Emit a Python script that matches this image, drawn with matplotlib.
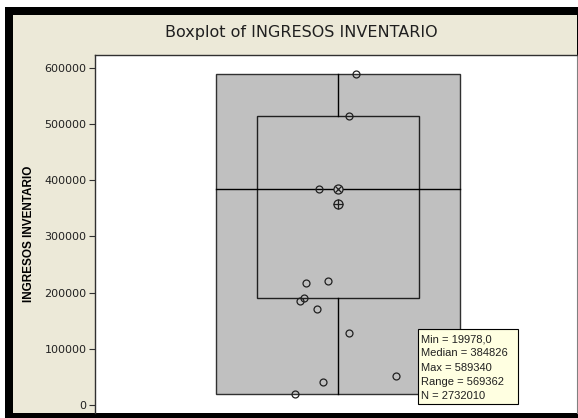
import matplotlib
matplotlib.use("Agg")
import matplotlib.pyplot as plt
from matplotlib.patches import Rectangle

# summary values
v_min = 19978.0
v_q1 = 190500
v_median = 384826
v_q3 = 514500
v_max = 589340
v_mean = 357800

# individual observations and their horizontal jitter
points = [589340, 514500, 384000, 216700, 220200, 191000, 184600,
          170900, 127600, 52000, 40400, 19978]
jitter = [0.073, 0.046, -0.079, -0.132, -0.043, -0.140, -0.158,
          -0.088, 0.046, 0.241, -0.063, -0.178]

yticks = [0, 100000, 200000, 300000, 400000, 500000, 600000]
info_lines = ["Min = 19978,0", "Median = 384826", "Max = 589340",
              "Range = 569362", "N = 2732010"]

W, H = 578, 418
fig = plt.figure(figsize=(W / 100, H / 100), dpi=100)
fig.patch.set_facecolor("white")

# window frame: black border and beige panel
fig.patches.append(Rectangle((5 / W, 0), 1 - 5 / W, 1 - 7 / H,
                             transform=fig.transFigure, facecolor="black",
                             edgecolor="none", zorder=-3))
fig.patches.append(Rectangle((13 / W, 5 / H), (577 - 13) / W, (413 - 15) / H,
                             transform=fig.transFigure, facecolor="#ECE9D8",
                             edgecolor="none", zorder=-2))

ax = fig.add_axes([95 / W, 5 / H, (577 - 95) / W, (413 - 55) / H])
ax.set_zorder(1)
ax.set_facecolor("white")
ax.set_xlim(-1.008, 0.992)
ax.set_ylim(-14240, 623100)

c = 0.0
ow, iw = 0.506, 0.336
# outer range box
ax.add_patch(Rectangle((c - ow, v_min), 2 * ow, v_max - v_min,
                       facecolor="#C0C0C0", edgecolor="#303030", lw=1.0, zorder=1))
# interquartile box
ax.add_patch(Rectangle((c - iw, v_q1), 2 * iw, v_q3 - v_q1,
                       facecolor="#C0C0C0", edgecolor="#202020", lw=1.0, zorder=2))
# whiskers
ax.plot([c, c], [v_q3, v_max], color="black", lw=1.0, zorder=3)
ax.plot([c, c], [v_min, v_q1], color="black", lw=1.0, zorder=3)
# median line
ax.plot([c - ow, c + ow], [v_median, v_median], color="black", lw=1.0, zorder=3)

# data points
xs = [c + j for j in jitter]
ax.plot(xs, points, "o", ms=5, mfc="none", mec="#202020", mew=0.9, zorder=4)
# median marker (circled x) and mean marker (circled plus)
ax.plot([c], [v_median], "o", ms=6.5, mfc="#C0C0C0", mec="#202020", mew=0.9, zorder=5)
ax.plot([c], [v_median], "x", ms=4.5, color="#202020", mew=0.9, zorder=6)
ax.plot([c], [v_mean], "o", ms=6.5, mfc="#C0C0C0", mec="#202020", mew=0.9, zorder=5)
ax.plot([c], [v_mean], "+", ms=6.5, color="#202020", mew=0.9, zorder=6)

ax.set_yticks(yticks)
ax.set_yticklabels([str(t) for t in yticks], fontsize=8, color="#202020")
ax.tick_params(axis="y", direction="out", length=4, width=0.8, color="#303030", pad=2)
ax.set_xticks([])
ax.set_ylabel("INGRESOS INVENTARIO", fontsize=8.5, fontweight="bold",
              family="Liberation Sans", labelpad=7)

for s in ["left", "top"]:
    ax.spines[s].set_color("#303030")
    ax.spines[s].set_linewidth(1.0)
ax.spines["bottom"].set_visible(False)
ax.spines["right"].set_color("#808080")

fig.text(301 / W, 1 - 33 / H, "Boxplot of INGRESOS INVENTARIO",
         ha="center", va="center", fontsize=11.5, color="#202020")

# hover info box
fig.patches.append(Rectangle((418 / W, 1 - 404 / H), 100 / W, 75 / H,
                             transform=fig.transFigure, facecolor="#FFFFE1",
                             edgecolor="black", lw=0.8, zorder=10))
for i, line in enumerate(info_lines):
    fig.text(421 / W, 1 - (339 + 14.3 * i) / H, line, ha="left", va="center",
             fontsize=8, family="Liberation Sans", color="#202020", zorder=11)

fig.savefig("out.png", dpi=100)
